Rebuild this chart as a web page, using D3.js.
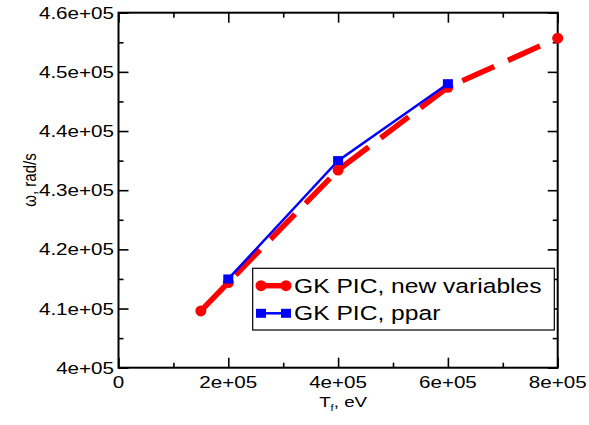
<!DOCTYPE html>
<html>
<head>
<meta charset="utf-8">
<script src="https://cdn.jsdelivr.net/npm/d3@7"></script>
<style>
  body { margin: 0; background: #fff; }
  svg { display: block; font-family: "Liberation Sans", Arial, sans-serif; }
</style>
</head>
<body>
<svg id="chart" width="589" height="425"></svg>
<script>
// ---- data ----
const newVarT = [1.5e5, 2e5, 4e5, 6e5, 8e5];
const newVarOmega = [4.096e5, 4.144e5, 4.334e5, 4.474e5, 4.557e5];
const pparT = [2e5, 4e5, 6e5];
const pparOmega = [4.150e5, 4.350e5, 4.480e5];
const xTicks = [0, 2e5, 4e5, 6e5, 8e5];
const xTickLabels = ["0", "2e+05", "4e+05", "6e+05", "8e+05"];
const yTicks = [4e5, 4.1e5, 4.2e5, 4.3e5, 4.4e5, 4.5e5, 4.6e5];
const yTickLabels = ["4e+05", "4.1e+05", "4.2e+05", "4.3e+05", "4.4e+05", "4.5e+05", "4.6e+05"];
const xMinor = [1e5, 3e5, 5e5, 7e5];
const yMinor = [4.05e5, 4.15e5, 4.25e5, 4.35e5, 4.45e5, 4.55e5];
const seriesNames = ["GK PIC, new variables", "GK PIC, ppar"];

// ---- layout ----
const L = 118.5, R = 557.7, T = 12.7, B = 367.7;
const SX = 1.25; // horizontal glyph stretch
const svg = d3.select("#chart");
const x = d3.scaleLinear().domain([0, 8e5]).range([L, R]);
const y = d3.scaleLinear().domain([4e5, 4.6e5]).range([B, T]);

function axisStyle(g) {
  g.select(".domain").remove();
  g.selectAll("line").attr("stroke", "#000").attr("stroke-width", 1.6);
}
// major ticks (inward)
svg.append("g").attr("transform", `translate(0,${B})`)
  .call(d3.axisBottom(x).tickValues(xTicks).tickSize(-10).tickFormat("")).call(axisStyle);
svg.append("g").attr("transform", `translate(0,${T})`)
  .call(d3.axisTop(x).tickValues(xTicks).tickSize(-10).tickFormat("")).call(axisStyle);
svg.append("g").attr("transform", `translate(${L},0)`)
  .call(d3.axisLeft(y).tickValues(yTicks).tickSize(-10).tickFormat("")).call(axisStyle);
svg.append("g").attr("transform", `translate(${R},0)`)
  .call(d3.axisRight(y).tickValues(yTicks).tickSize(-10).tickFormat("")).call(axisStyle);
// minor ticks
svg.append("g").attr("transform", `translate(0,${B})`)
  .call(d3.axisBottom(x).tickValues(xMinor).tickSize(-5).tickFormat("")).call(axisStyle);
svg.append("g").attr("transform", `translate(0,${T})`)
  .call(d3.axisTop(x).tickValues(xMinor).tickSize(-5).tickFormat("")).call(axisStyle);
svg.append("g").attr("transform", `translate(${L},0)`)
  .call(d3.axisLeft(y).tickValues(yMinor).tickSize(-5).tickFormat("")).call(axisStyle);
svg.append("g").attr("transform", `translate(${R},0)`)
  .call(d3.axisRight(y).tickValues(yMinor).tickSize(-5).tickFormat("")).call(axisStyle);

// frame
svg.append("rect").attr("x", L).attr("y", T).attr("width", R - L).attr("height", B - T)
  .attr("fill", "none").attr("stroke", "#000").attr("stroke-width", 2);

// tick labels
svg.append("g").selectAll("text").data(xTicks).join("text")
  .attr("transform", d => `translate(${x(d)},${B + 20}) scale(${SX},1)`)
  .attr("text-anchor", "middle").attr("font-size", 16.5).attr("fill", "#000")
  .text((d, i) => xTickLabels[i]);
svg.append("g").selectAll("text").data(yTicks).join("text")
  .attr("transform", d => `translate(${L - 4.5},${y(d) + 6}) scale(${SX},1)`)
  .attr("text-anchor", "end").attr("font-size", 16.5).attr("fill", "#000")
  .text((d, i) => yTickLabels[i]);

// axis titles
const xt = svg.append("text")
  .attr("transform", `translate(${(L + R) / 2 + 5},${B + 39}) scale(${SX},1)`)
  .attr("text-anchor", "middle").attr("font-size", 15).attr("fill", "#000");
xt.append("tspan").text("T");
xt.append("tspan").attr("font-size", 9).attr("dy", 4).text("f");
xt.append("tspan").attr("dy", -4).text(", eV");

svg.append("text")
  .attr("transform", `translate(36,180) scale(${SX},1) rotate(-90)`)
  .attr("text-anchor", "middle").attr("font-size", 15).attr("fill", "#000")
  .text("ω, rad/s");

// series
const line = d3.line().x(d => x(d[0])).y(d => y(d[1]));
const redData = newVarT.map((t, i) => [t, newVarOmega[i]]);
const blueData = pparT.map((t, i) => [t, pparOmega[i]]);

svg.append("path").datum(redData).attr("d", line)
  .attr("fill", "none").attr("stroke", "#ff0000").attr("stroke-width", 5.5)
  .attr("stroke-dasharray", "35,15");
svg.append("g").selectAll("circle").data(redData).join("circle")
  .attr("cx", d => x(d[0])).attr("cy", d => y(d[1])).attr("r", 5.5).attr("fill", "#ff0000");

svg.append("path").datum(blueData).attr("d", line)
  .attr("fill", "none").attr("stroke", "#0000ff").attr("stroke-width", 2.5);
svg.append("g").selectAll("rect").data(blueData).join("rect")
  .attr("x", d => x(d[0]) - 5).attr("y", d => y(d[1]) - 4.5)
  .attr("width", 10).attr("height", 9).attr("fill", "#0000ff");

// legend
const lg = svg.append("g");
lg.append("rect").attr("x", 252.7).attr("y", 268.3).attr("width", 301.6).attr("height", 61.7)
  .attr("fill", "#fff").attr("stroke", "#000").attr("stroke-width", 1.2);
// red entry
lg.append("line").attr("x1", 261).attr("x2", 286).attr("y1", 285.7).attr("y2", 285.7)
  .attr("stroke", "#ff0000").attr("stroke-width", 5.5);
lg.selectAll("circle.l").data([261, 286]).join("circle").attr("class", "l")
  .attr("cx", d => d).attr("cy", 285.7).attr("r", 5.5).attr("fill", "#ff0000");
// blue entry
lg.append("line").attr("x1", 261).attr("x2", 286).attr("y1", 313.3).attr("y2", 313.3)
  .attr("stroke", "#0000ff").attr("stroke-width", 2.5);
lg.selectAll("rect.l").data([261, 286]).join("rect").attr("class", "l")
  .attr("x", d => d - 5).attr("y", 313.3 - 4.5).attr("width", 10).attr("height", 9).attr("fill", "#0000ff");
lg.selectAll("text").data(seriesNames).join("text")
  .attr("transform", (d, i) => `translate(294,${292.5 + i * 27.6}) scale(${SX},1)`)
  .attr("font-size", 19.7).attr("fill", "#000")
  .text(d => d);
</script>
</body>
</html>
